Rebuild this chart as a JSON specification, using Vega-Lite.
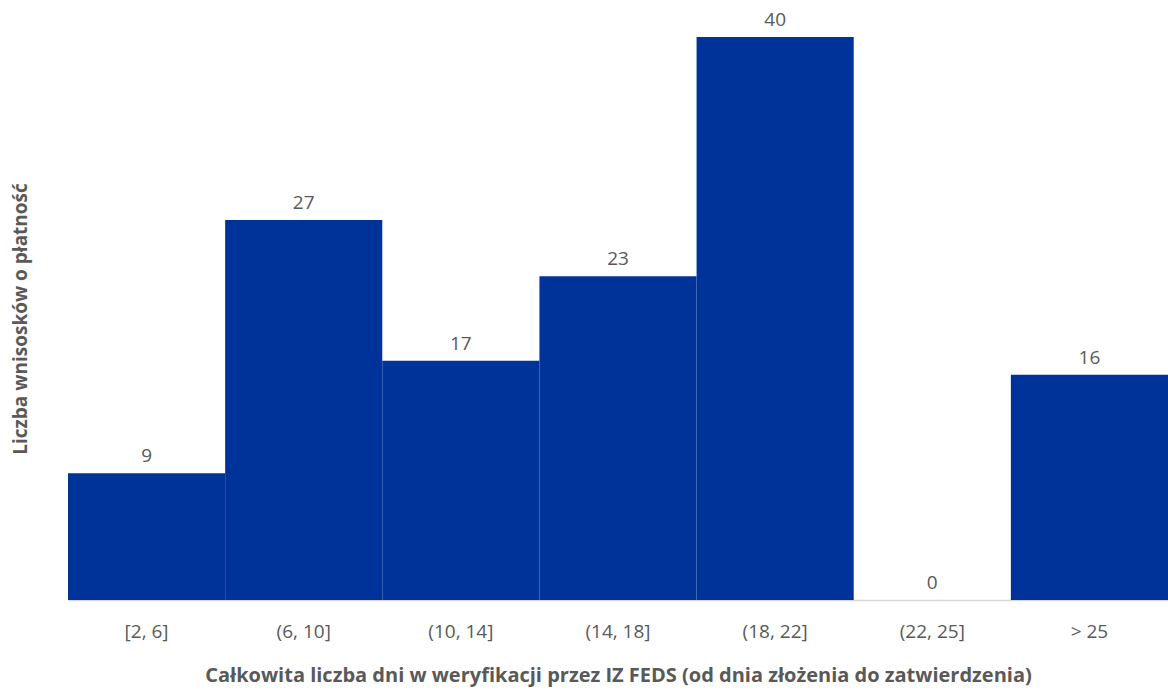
{
  "$schema": "https://vega.github.io/schema/vega-lite/v6.json",
  "width": 1100,
  "height": 563,
  "autosize": "none",
  "padding": {"left": 68, "top": 37, "right": 0, "bottom": 90},
  "background": "white",
  "config": {"view": {"stroke": null}, "font": "Open Sans"},
  "data": {"values": [
    {"bin": "[2, 6]", "count": 9},
    {"bin": "(6, 10]", "count": 27},
    {"bin": "(10, 14]", "count": 17},
    {"bin": "(14, 18]", "count": 23},
    {"bin": "(18, 22]", "count": 40},
    {"bin": "(22, 25]", "count": 0},
    {"bin": "> 25", "count": 16}
  ]},
  "encoding": {
    "x": {"field": "bin", "type": "nominal", "sort": null,
      "scale": {"paddingInner": 0, "paddingOuter": 0},
      "axis": {"title": "Całkowita liczba dni w weryfikacji przez IZ FEDS (od dnia złożenia do zatwierdzenia)",
        "labelAngle": 0, "ticks": false, "domainColor": "#d9d9d9", "domainWidth": 1.5,
        "labelPadding": 22, "labelFontSize": 19, "labelColor": "#595959", "labelFont": "Open Sans",
        "titleFontSize": 20, "titleFontWeight": "bold", "titleColor": "#595959", "titlePadding": 24, "titleFont": "Open Sans"}},
    "y": {"field": "count", "type": "quantitative", "scale": {"domain": [0, 40], "nice": false},
      "axis": {"title": "Liczba wnisosków o płatność", "labels": false, "ticks": false, "domain": false, "grid": false,
        "titleFontSize": 19, "titleFontWeight": "bold", "titleColor": "#595959", "titlePadding": 38, "titleFont": "Open Sans"}}
  },
  "layer": [
    {"mark": {"type": "bar", "color": "#003399"}},
    {"mark": {"type": "text", "dy": -17, "fontSize": 19, "color": "#595959", "font": "Open Sans"},
      "encoding": {"text": {"field": "count", "type": "quantitative"}}}
  ]
}
